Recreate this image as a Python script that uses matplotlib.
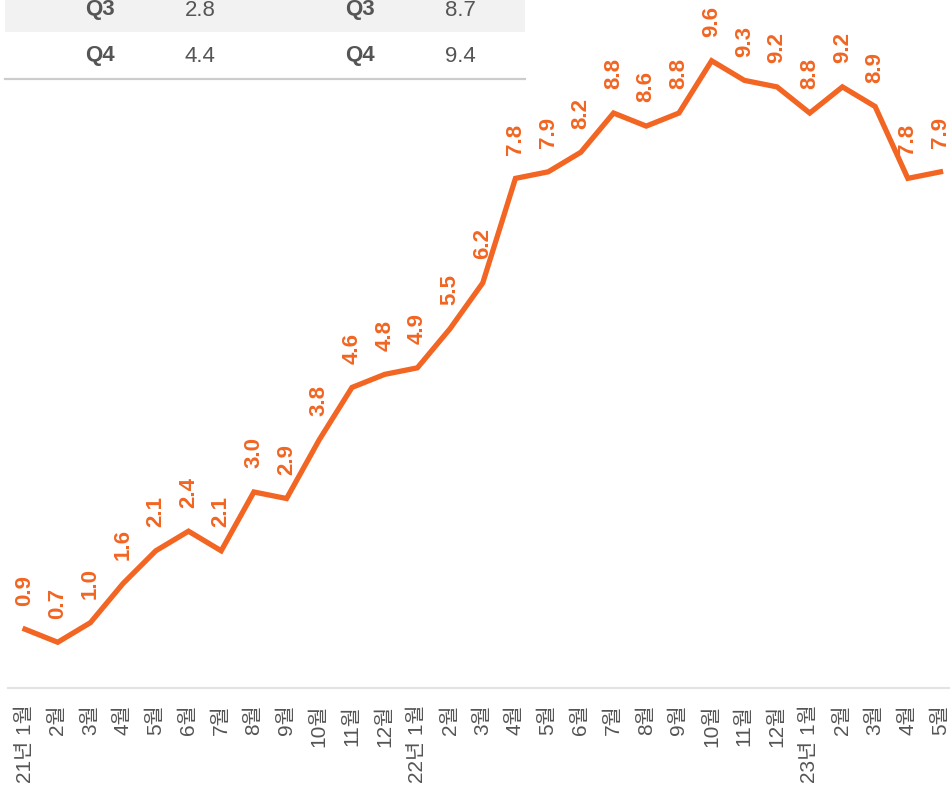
import matplotlib
matplotlib.use("Agg")
import matplotlib.pyplot as plt
from matplotlib.patches import Rectangle
from matplotlib.lines import Line2D

plt.rcParams['font.family'] = ['Liberation Sans', 'Noto Sans CJK KR', 'DejaVu Sans']

# monthly values, 21년 1월 .. 23년 5월
months = ["21년 1월", "2월", "3월", "4월", "5월", "6월", "7월", "8월", "9월", "10월", "11월", "12월",
          "22년 1월", "2월", "3월", "4월", "5월", "6월", "7월", "8월", "9월", "10월", "11월", "12월",
          "23년 1월", "2월", "3월", "4월", "5월"]
values = [0.9, 0.7, 1.0, 1.6, 2.1, 2.4, 2.1, 3.0, 2.9, 3.8, 4.6, 4.8,
          4.9, 5.5, 6.2, 7.8, 7.9, 8.2, 8.8, 8.6, 8.8, 9.6, 9.3, 9.2,
          8.8, 9.2, 8.9, 7.8, 7.9]

# quarter table (top of it lies outside the picture)
tbl_quarters = ["Q3", "Q4"]
tbl_left = [2.8, 4.4]
tbl_right = [8.7, 9.4]

ORANGE = "#F26522"
GREY = "#555555"

W, H = 950, 793
fig = plt.figure(figsize=(W / 100, H / 100), dpi=100)

def fx(px):
    return px / W

def fy(py):
    return 1 - py / H

ax = fig.add_axes([fx(8), fy(688), fx(942), 688 / H])
x = list(range(len(values)))
ax.plot(x, values, color=ORANGE, lw=3.8, solid_joinstyle="miter", clip_on=False)
for xi, v in zip(x, values):
    ax.annotate(f"{v:.1f}", (xi, v), xytext=(0, 17), textcoords="offset points",
                rotation=90, ha="center", va="bottom", color=ORANGE,
                fontsize=16, fontweight="bold", annotation_clip=False)

ax.set_xlim(-0.52, 28.29)
ax.set_ylim(0, 10.53)
ax.set_xticks(x)
ax.set_xticklabels(months, rotation=90, ha="center", va="top", fontsize=15, color=GREY)
ax.tick_params(axis="x", length=0, pad=12)
ax.set_yticks([])
for s in ["top", "left", "right"]:
    ax.spines[s].set_visible(False)
ax.spines["bottom"].set_color("#e3e3e3")
ax.spines["bottom"].set_linewidth(1.5)

# table
fig.patches.append(Rectangle((fx(5), fy(32)), fx(520), 32 / H, transform=fig.transFigure,
                             facecolor="#f2f2f2", edgecolor="none", zorder=0))
row_y = [10, 56]
for q, a, b, ry in zip(tbl_quarters, tbl_left, tbl_right, row_y):
    fig.text(fx(100), fy(ry), q, ha="center", va="center", fontsize=16, fontweight="bold", color=GREY)
    fig.text(fx(200), fy(ry), f"{a:.1f}", ha="center", va="center", fontsize=16, color=GREY)
    fig.text(fx(360), fy(ry), q, ha="center", va="center", fontsize=16, fontweight="bold", color=GREY)
    fig.text(fx(460), fy(ry), f"{b:.1f}", ha="center", va="center", fontsize=16, color=GREY)
fig.lines.append(Line2D([fx(5), fx(525)], [fy(79), fy(79)], transform=fig.transFigure,
                        color="#cccccc", lw=1.6))

fig.savefig("out.png", dpi=100)
